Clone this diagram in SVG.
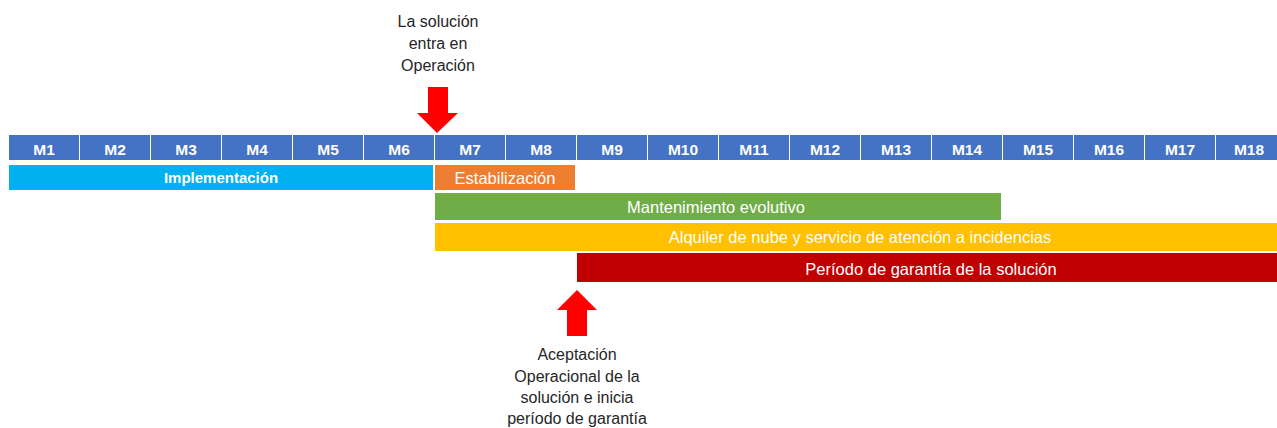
<svg xmlns="http://www.w3.org/2000/svg" width="1277" height="428" viewBox="0 0 1277 428">
<style>
.cell{fill:#4472C4}
.mt{font-family:"Liberation Sans",Arial,sans-serif;font-size:15.5px;font-weight:bold;fill:#fff;text-anchor:middle}
.bt{font-family:"Liberation Sans",Arial,sans-serif;font-size:16.5px;fill:#fff;text-anchor:middle}
.lbl{font-family:"Liberation Sans",Arial,sans-serif;font-size:16px;fill:#262626;text-anchor:middle}
.arrow{fill:#FF0000}
</style>
<rect width="1277" height="428" fill="#fff"/>
<g id="months">
<rect class="cell" x="9" y="135" width="70" height="25"/><text class="mt" x="44" y="155">M1</text>
<rect class="cell" x="80" y="135" width="70" height="25"/><text class="mt" x="115" y="155">M2</text>
<rect class="cell" x="151" y="135" width="70" height="25"/><text class="mt" x="186" y="155">M3</text>
<rect class="cell" x="222" y="135" width="70" height="25"/><text class="mt" x="257" y="155">M4</text>
<rect class="cell" x="293" y="135" width="70" height="25"/><text class="mt" x="328" y="155">M5</text>
<rect class="cell" x="364" y="135" width="70" height="25"/><text class="mt" x="399" y="155">M6</text>
<rect class="cell" x="435" y="135" width="70" height="25"/><text class="mt" x="470" y="155">M7</text>
<rect class="cell" x="506" y="135" width="70" height="25"/><text class="mt" x="541" y="155">M8</text>
<rect class="cell" x="577" y="135" width="70" height="25"/><text class="mt" x="612" y="155">M9</text>
<rect class="cell" x="648" y="135" width="70" height="25"/><text class="mt" x="683" y="155">M10</text>
<rect class="cell" x="719" y="135" width="70" height="25"/><text class="mt" x="754" y="155">M11</text>
<rect class="cell" x="790" y="135" width="70" height="25"/><text class="mt" x="825" y="155">M12</text>
<rect class="cell" x="861" y="135" width="70" height="25"/><text class="mt" x="896" y="155">M13</text>
<rect class="cell" x="932" y="135" width="70" height="25"/><text class="mt" x="967" y="155">M14</text>
<rect class="cell" x="1003" y="135" width="70" height="25"/><text class="mt" x="1038" y="155">M15</text>
<rect class="cell" x="1074" y="135" width="70" height="25"/><text class="mt" x="1109" y="155">M16</text>
<rect class="cell" x="1145" y="135" width="70" height="25"/><text class="mt" x="1180" y="155">M17</text>
<rect class="cell" x="1216" y="135" width="70" height="25"/><text class="mt" x="1249" y="155">M18</text>
</g>
<g id="implementacion">
<rect x="9" y="165" width="424" height="25" fill="#00B0F0"/>
<text class="bt" x="221" y="183" style="font-weight:bold;font-size:15px">Implementación</text>
</g>
<g id="estabilizacion">
<rect x="435" y="165" width="140" height="25" fill="#ED7D31"/>
<text class="bt" x="505" y="184">Estabilización</text>
</g>
<g id="mantenimiento">
<rect x="435" y="193" width="566" height="27" fill="#70AD47"/>
<text class="bt" x="716" y="213">Mantenimiento evolutivo</text>
</g>
<g id="alquiler">
<rect x="435" y="223" width="850" height="28" fill="#FFC000"/>
<text class="bt" x="860" y="243">Alquiler de nube y servicio de atención a incidencias</text>
</g>
<g id="garantia">
<rect x="577" y="253" width="710" height="29" fill="#C00000"/>
<text class="bt" x="931" y="275">Período de garantía de la solución</text>
</g>
<g id="connectors">
<polygon class="arrow" points="428,87 448,87 448,113 458,113 437,133 417,113 428,113"/>
<polygon class="arrow" points="577,290 597,310 587,310 587,336 567,336 567,310 557,310"/>
</g>
<g id="label-operacion">
<text class="lbl" x="438" y="27">La solución</text>
<text class="lbl" x="438" y="49">entra en</text>
<text class="lbl" x="438" y="71">Operación</text>
</g>
<g id="label-aceptacion">
<text class="lbl" x="577" y="360">Aceptación</text>
<text class="lbl" x="577" y="382">Operacional de la</text>
<text class="lbl" x="577" y="403">solución e inicia</text>
<text class="lbl" x="577" y="424">período de garantía</text>
</g>
</svg>
